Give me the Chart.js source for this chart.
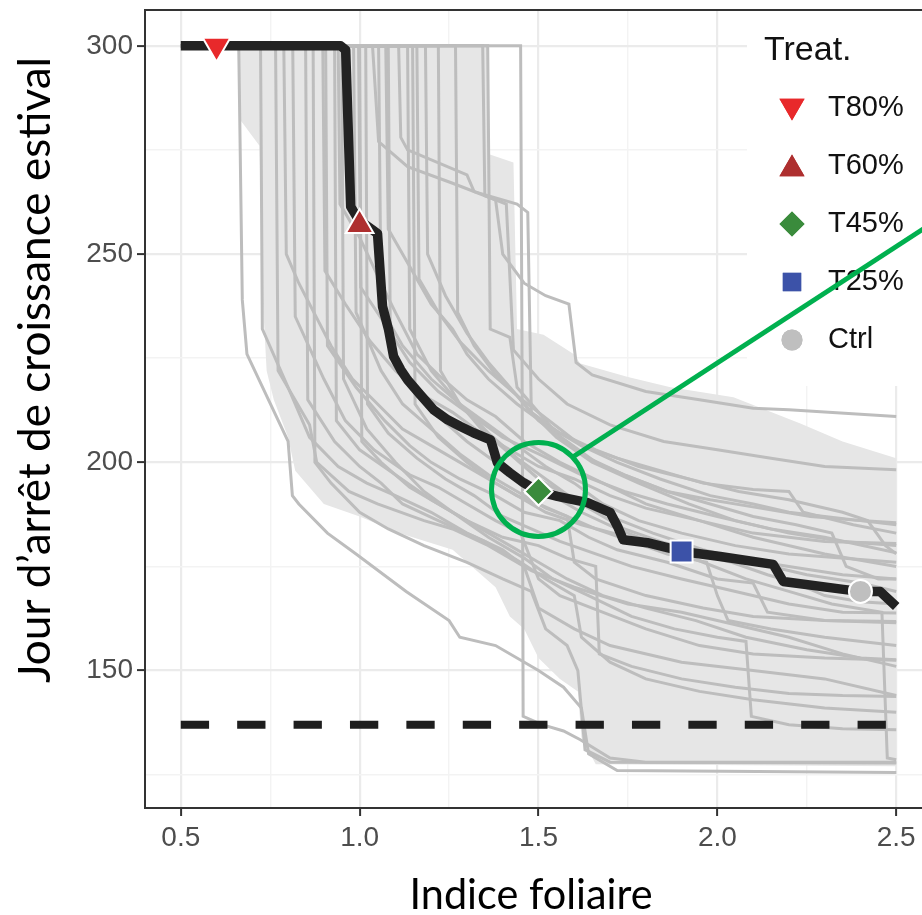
<!DOCTYPE html>
<html lang="fr">
<head>
<meta charset="utf-8">
<title>Jour d’arrêt de croissance estival</title>
<script src="https://cdn.jsdelivr.net/npm/chart.js@4.4.0/dist/chart.umd.min.js"></script>
<style>
    html, body { margin: 0; padding: 0; background: #fff; overflow: hidden; }
    #cadre { width: 960px; height: 915px; }
</style>
</head>
<body>
<div id="cadre"><canvas id="grafico" width="960" height="915"></canvas></div>
<script>
// ------------------------------ Données ------------------------------

const marcasX = [0.5, 1.0, 1.5, 2.0, 2.5];
const rejillaX = [0.5, 0.75, 1.0, 1.25, 1.5, 1.75, 2.0, 2.25, 2.5];
const marcasY = [150, 200, 250, 300];
const rejillaY = [125, 150, 175, 200, 225, 250, 275, 300];

// Traitements (points sur la médiane)
const traitements = ["T80%", "T60%", "T45%", "T25%", "Ctrl"];
const traitX = [0.6, 1.0, 1.5, 1.9, 2.4];
const traitY = [300, 257, 193, 178.6, 169];

// Courbe médiane (noire)
const medianeX = [0.5, 0.947, 0.961, 0.975, 0.997, 1.036, 1.05, 1.064, 1.081, 1.095, 1.115, 1.134, 1.17, 1.207,
    1.246, 1.282, 1.318, 1.366, 1.385, 1.42, 1.458, 1.5, 1.553, 1.637, 1.70, 1.721, 1.737, 1.804, 1.902, 2.008,
    2.156, 2.184, 2.352, 2.40, 2.455, 2.5];
const medianeY = [300, 300, 299, 261.4, 258.2, 255.8, 254.9, 237.4, 231.8, 225.4, 222.2, 219.8, 216.2, 212.6,
    210.2, 208.6, 207.1, 205.4, 199.9, 197.5, 195.1, 193.0, 191.8, 190.3, 188, 184.6, 181.4, 180.7, 178.6, 177.4,
    175.5, 171.4, 169.5, 169.0, 169.0, 165.4];

// Seuil (ligne pointillée)
const seuilX = [0.5, 2.5];
const seuilY = [137, 137];

// Enveloppe grise : bord haut (gauche -> droite) puis bord bas (droite -> gauche)
const bandeHautX = [0.662, 1.358, 1.36, 1.43, 1.44, 1.514, 1.598, 1.617, 1.75, 1.869, 2.045, 2.232, 2.35, 2.5];
const bandeHautY = [300, 300, 274, 272, 232, 230.6, 226, 223.7, 220.5, 218, 215.6, 209.3, 205, 201];
const bandeBasX = [2.5, 1.66, 1.62, 1.61, 1.56, 1.50, 1.46, 1.42, 1.38, 1.26, 1.11, 1.0, 0.90, 0.82, 0.80, 0.76,
    0.74, 0.73, 0.72, 0.668, 0.662];
const bandeBasY = [127, 127.5, 134, 145, 148, 153, 160, 163, 170, 179, 183, 187, 190, 198, 206, 215, 222, 238,
    276, 282, 300];

// Courbes individuelles (grises), paires [indice foliaire, jour]
const c01 = [[0.5, 300], [0.662, 300], [0.672, 239], [0.685, 226], [0.80, 205], [0.812, 192], [0.83, 190], [0.91, 183], [0.99, 178], [1.13, 169], [1.25, 162], [1.28, 158], [1.38, 156], [1.50, 150], [1.57, 146], [1.62, 141], [1.64, 130], [1.72, 126], [2.5, 125.5]];
const c02 = [[0.5, 300], [0.723, 300], [0.728, 232], [0.80, 218], [0.86, 206], [0.94, 199], [1.02, 195], [1.10, 192], [1.20, 188], [1.30, 183], [1.40, 179], [1.46, 175], [1.50, 165], [1.60, 160], [1.70, 156], [1.90, 152], [2.10, 150], [2.3, 148], [2.5, 144]];
const c03 = [[0.5, 300], [0.765, 300], [0.772, 222], [0.86, 209], [0.88, 200], [0.97, 193], [1.05, 190], [1.18, 186], [1.26, 184], [1.36, 180], [1.48, 174], [1.60, 170], [1.75, 166], [1.90, 164], [2.0, 162], [2.2, 158], [2.35, 154], [2.5, 151]];
const c04 = [[0.5, 300], [0.788, 300], [0.795, 250], [0.83, 243], [0.92, 228], [0.98, 220], [1.05, 214], [1.12, 208], [1.20, 204], [1.32, 198], [1.42, 193], [1.52, 188], [1.62, 185], [1.75, 182], [1.90, 180], [2.05, 177], [2.2, 175], [2.35, 173], [2.5, 172]];
const c05 = [[0.5, 300], [0.813, 300], [0.82, 235], [0.90, 220], [0.96, 210], [1.04, 203], [1.14, 197], [1.22, 194], [1.30, 190], [1.38, 186], [1.45, 183], [1.50, 172], [1.56, 168], [1.65, 165], [1.80, 160], [1.95, 156], [2.10, 154], [2.3, 153], [2.5, 152.5]];
const c06 = [[0.5, 300], [0.849, 300], [0.855, 215], [0.93, 205], [1.0, 199], [1.06, 195], [1.12, 190], [1.22, 186], [1.35, 181], [1.45, 176], [1.52, 172], [1.60, 168], [1.62, 158], [1.70, 152], [1.80, 148], [1.95, 145], [2.1, 143], [2.3, 141], [2.5, 140]];
const c07 = [[0.5, 300], [0.897, 300], [0.903, 246], [0.96, 238], [1.03, 229], [1.10, 222], [1.18, 216], [1.26, 212], [1.34, 207], [1.42, 203], [1.50, 199], [1.60, 196], [1.70, 192], [1.80, 189], [1.95, 186], [2.10, 183], [2.3, 181], [2.5, 180.5]];
const c08 = [[0.5, 300], [0.905, 300], [0.91, 228], [0.99, 218], [1.07, 210], [1.14, 204], [1.20, 200], [1.28, 196], [1.38, 192], [1.46, 188], [1.56, 186], [1.64, 182], [1.72, 179], [1.86, 176], [2.0, 172], [2.1, 171], [2.14, 164], [2.3, 162], [2.5, 161.5]];
const c09 = [[0.5, 300], [0.94, 300], [0.945, 262], [1.0, 254], [1.06, 243], [1.10, 236], [1.16, 226], [1.22, 221], [1.30, 215], [1.38, 211], [1.46, 205], [1.56, 200], [1.68, 195], [1.80, 190], [1.95, 186], [2.1, 182], [2.3, 178], [2.5, 175]];
const c10 = [[0.5, 300], [0.983, 300], [0.99, 236], [1.06, 222], [1.12, 214], [1.20, 208], [1.28, 202], [1.36, 197], [1.44, 193], [1.52, 189], [1.58, 187], [1.60, 176], [1.66, 172], [1.80, 168], [1.96, 165], [2.1, 163], [2.3, 162], [2.5, 161.8]];
const c11 = [[0.5, 300], [0.997, 300], [1.003, 242], [1.08, 232], [1.14, 224], [1.22, 217], [1.30, 212], [1.40, 206], [1.50, 202], [1.62, 197], [1.74, 193], [1.86, 190], [2.0, 187], [2.15, 184], [2.3, 182], [2.5, 178.3]];
const c12 = [[0.5, 300], [1.017, 300], [1.022, 214], [1.08, 207], [1.16, 201], [1.24, 196], [1.32, 192], [1.40, 187], [1.48, 184], [1.56, 181], [1.66, 178], [1.76, 175], [1.90, 172], [2.0, 170], [2.2, 166], [2.35, 164], [2.5, 163.8]];
const c13 = [[0.5, 300], [1.036, 300], [1.053, 277], [1.134, 271], [1.26, 267], [1.41, 262], [1.43, 227], [1.50, 220], [1.58, 214], [1.70, 209], [1.85, 205], [2.0, 203], [2.15, 201], [2.3, 199], [2.5, 198.2]];
const c14 = [[0.5, 300], [1.053, 300], [1.06, 237], [1.12, 228], [1.20, 220], [1.28, 214], [1.36, 209], [1.44, 204], [1.52, 199], [1.60, 195], [1.68, 190], [1.78, 186], [1.90, 183], [2.05, 180], [2.2, 178], [2.5, 176]];
const c15 = [[0.5, 300], [1.073, 300], [1.08, 256], [1.14, 247], [1.20, 238], [1.26, 232], [1.30, 226], [1.36, 220], [1.44, 214], [1.52, 209], [1.62, 204], [1.72, 200], [1.84, 196], [1.98, 192], [2.1, 190], [2.2, 188], [2.4, 186], [2.5, 185]];
const c16 = [[0.5, 300], [1.109, 300], [1.115, 278], [1.134, 275], [1.30, 269], [1.32, 265], [1.44, 262], [1.47, 260], [1.48, 212], [1.55, 206], [1.65, 200], [1.78, 195], [1.92, 190], [2.05, 186], [2.2, 183], [2.35, 181], [2.5, 180]];
const c17 = [[0.5, 300], [1.134, 300], [1.14, 232], [1.20, 222], [1.28, 214], [1.36, 207], [1.44, 201], [1.52, 196], [1.60, 191], [1.70, 187], [1.82, 183], [1.96, 179], [2.1, 176], [2.25, 173], [2.4, 171], [2.5, 169]];
const c18 = [[0.5, 300], [1.148, 300], [1.155, 214], [1.22, 206], [1.30, 200], [1.38, 195], [1.44, 192], [1.50, 190], [1.58, 187], [1.66, 184], [1.76, 181], [1.86, 178], [1.97, 176], [2.0, 168], [2.03, 162], [2.15, 160], [2.3, 158], [2.5, 156]];
const c19 = [[0.5, 300], [1.184, 300], [1.19, 250], [1.24, 240], [1.30, 231], [1.36, 224], [1.42, 218], [1.48, 212], [1.56, 207], [1.66, 203], [1.78, 199], [1.92, 196], [2.06, 193], [2.2, 191], [2.35, 188], [2.42, 186], [2.47, 180], [2.5, 178]];
const c20 = [[0.5, 300], [1.268, 300], [1.274, 236], [1.32, 228], [1.38, 221], [1.44, 216], [1.50, 212], [1.56, 206], [1.64, 201], [1.74, 197], [1.86, 193], [1.98, 190], [2.1, 187], [2.22, 185], [2.32, 183], [2.36, 175], [2.45, 172], [2.5, 172]];
const c21 = [[0.5, 300], [1.344, 300], [1.35, 264], [1.38, 263], [1.40, 250], [1.46, 243], [1.52, 240], [1.585, 238], [1.605, 224], [1.65, 221], [1.80, 217], [1.95, 215], [2.10, 213], [2.2, 212.6], [2.5, 211]];
const c22 = [[0.5, 300], [1.358, 300], [1.365, 232], [1.42, 230], [1.44, 218], [1.50, 212], [1.56, 208], [1.62, 204], [1.72, 201], [1.84, 198], [1.96, 195], [2.1, 193.5], [2.2, 193], [2.24, 188], [2.38, 185], [2.5, 183]];
const c23 = [[0.5, 300], [1.45, 300], [1.455, 205], [1.457, 139], [1.51, 137], [1.57, 135.5], [1.617, 133.4], [1.70, 129], [1.80, 128], [2.5, 128]];
const c24 = [[0.5, 300], [1.0, 300], [1.006, 205], [1.06, 200], [1.14, 194], [1.24, 189], [1.34, 184], [1.42, 180], [1.50, 176], [1.58, 172], [1.68, 168], [1.80, 165], [1.94, 162], [2.08, 158], [2.25, 155], [2.4, 153], [2.5, 152.6]];
const c25 = [[0.5, 300], [0.87, 300], [0.875, 200], [0.92, 195], [1.0, 188], [1.08, 184], [1.18, 180], [1.30, 176], [1.40, 172], [1.48, 169], [1.52, 160], [1.58, 156], [1.61, 150], [1.63, 131], [1.70, 128], [2.5, 127.8]];
const c26 = [[0.5, 300], [1.16, 300], [1.166, 244], [1.22, 236], [1.28, 229], [1.36, 222], [1.44, 216], [1.50, 210], [1.58, 205], [1.66, 200], [1.74, 197], [1.86, 193], [1.98, 191], [2.12, 189], [2.26, 187], [2.4, 186], [2.5, 185.5]];
const c27 = [[0.5, 300], [1.22, 300], [1.226, 222], [1.28, 214], [1.34, 208], [1.42, 202], [1.50, 196], [1.58, 192], [1.66, 188], [1.74, 184], [1.84, 181], [1.94, 178], [2.04, 176], [2.14, 173], [2.22, 171], [2.3, 168], [2.4, 166.5], [2.5, 166]];
const c28 = [[0.5, 300], [0.95, 300], [0.955, 220], [1.02, 208], [1.10, 200], [1.18, 193], [1.26, 188], [1.36, 182], [1.46, 177], [1.54, 172], [1.64, 168], [1.76, 163], [1.88, 160], [2.0, 158], [2.08, 157], [2.095, 139], [2.2, 137], [2.35, 136], [2.5, 135.8]];
const c29 = [[0.5, 300], [0.93, 300], [0.935, 210], [1.0, 203], [1.1, 197], [1.2, 191], [1.3, 186], [1.4, 182], [1.5, 180], [1.58, 177], [1.66, 175], [1.67, 154], [1.76, 151], [1.90, 148], [2.05, 146], [2.2, 144.5], [2.35, 144], [2.5, 143.8]];
const c30 = [[0.5, 300], [1.08, 300], [1.086, 226], [1.14, 218], [1.22, 211], [1.30, 205], [1.38, 200], [1.46, 196], [1.54, 192], [1.62, 188], [1.72, 184], [1.84, 180], [1.96, 176], [2.08, 172], [2.2, 169], [2.32, 166], [2.46, 164], [2.475, 129], [2.5, 128.6]];
const courbes = [c01, c02, c03, c04, c05, c06, c07, c08, c09, c10, c11, c12, c13, c14, c15,
    c16, c17, c18, c19, c20, c21, c22, c23, c24, c25, c26, c27, c28, c29, c30];

// Annotation verte (loupe sur T45%)
const loupeCentre = [1.5, 193.5];
const loupeLigneX = [1.598, 2.6];
const loupeLigneY = [201.4, 257.4];

// ------------------------------ Styles ------------------------------

const couleursTrait = ["#E8292B", "#AE2F2F", "#3A8B3C", "#3C52A8", "#BFBFBF"];
const stylesTrait = ["triangle", "triangle", "rectRot", "rect", "circle"];
const rotationsTrait = [180, 0, 0, 0, 0];
const rayonsTrait = [16, 16, 14, 15.5, 11.5];
const rayonsLegende = [14.5, 14.5, 12.5, 13, 10.5];

const policeChiffres = "'Liberation Sans', Arial, sans-serif";
const policeTitres = "Lato, 'Open Sans', sans-serif";

function estMajeur(valeur, liste) {
    return liste.some(v => Math.abs(v - valeur) < 1e-6);
}

function enPoints(xs, ys) {
    return xs.map((x, i) => ({ x: x, y: ys[i] }));
}

// ------------------------------ Jeux de données ------------------------------

const jeux = [];

// Points des traitements (au-dessus de tout)
traitements.forEach((nom, i) => {
    jeux.push({
        label: nom,
        data: [{ x: traitX[i], y: traitY[i] }],
        showLine: false,
        pointStyle: stylesTrait[i],
        rotation: rotationsTrait[i],
        pointRadius: rayonsTrait[i],
        pointBackgroundColor: couleursTrait[i],
        pointBorderColor: "#FFFFFF",
        pointBorderWidth: 2,
        order: 0
    });
});

// Médiane
jeux.push({
    label: "médiane",
    data: enPoints(medianeX, medianeY),
    borderColor: "#222222",
    borderWidth: 9.5,
    borderJoinStyle: "round",
    pointRadius: 0,
    fill: false,
    order: 1
});

// Seuil pointillé
jeux.push({
    label: "seuil",
    data: enPoints(seuilX, seuilY),
    borderColor: "#1E1E1E",
    borderWidth: 8,
    borderDash: [28.3, 28.1],
    pointRadius: 0,
    fill: false,
    order: 2
});

// Courbes individuelles
courbes.forEach((c, i) => {
    jeux.push({
        label: "courbe " + (i + 1),
        data: c.map(p => ({ x: p[0], y: p[1] })),
        borderColor: "#BDBDBD",
        borderWidth: 3,
        pointRadius: 0,
        fill: false,
        order: 3
    });
});

// Enveloppe (polygone fermé)
jeux.push({
    label: "enveloppe",
    data: enPoints(bandeHautX.concat(bandeBasX), bandeHautY.concat(bandeBasY)),
    borderWidth: 0,
    borderColor: "rgba(0,0,0,0)",
    backgroundColor: "#E6E6E6",
    pointRadius: 0,
    fill: "shape",
    order: 4
});

// ------------------------------ Dessins supplémentaires ------------------------------

const pluginDecor = {
    id: "decor",
    afterDraw(chart) {
        const { ctx, chartArea, scales } = chart;

        // Cadre du panneau (haut et droite)
        ctx.save();
        ctx.strokeStyle = "#333333";
        ctx.lineWidth = 2;
        ctx.beginPath();
        ctx.moveTo(chartArea.left, chartArea.top);
        ctx.lineTo(chartArea.right, chartArea.top);
        ctx.lineTo(chartArea.right, chartArea.bottom);
        ctx.stroke();
        ctx.restore();

        // Légende
        ctx.save();
        ctx.fillStyle = "#FFFFFF";
        ctx.fillRect(747, chartArea.top + 1, chartArea.right - 748, 375);
        ctx.fillStyle = "#111111";
        ctx.textBaseline = "middle";
        ctx.font = "34px " + policeChiffres;
        ctx.fillText("Treat.", 764, 51);
        ctx.font = "29px " + policeChiffres;
        traitements.forEach((nom, i) => {
            const y = 108 + i * 58;
            ctx.fillStyle = couleursTrait[i];
            Chart.helpers.drawPoint(ctx, {
                pointStyle: stylesTrait[i],
                rotation: rotationsTrait[i],
                radius: rayonsLegende[i],
                borderWidth: 0
            }, 792, y + (stylesTrait[i] === "triangle" ? (rotationsTrait[i] ? -2 : 3) : 0));
            ctx.fill();
            ctx.fillStyle = "#111111";
            ctx.fillText(nom, 828, y);
        });
        ctx.restore();

        // Titres des axes
        ctx.save();
        ctx.fillStyle = "#000000";
        ctx.textAlign = "center";
        ctx.textBaseline = "middle";
        ctx.font = "43px " + policeTitres;
        ctx.fillText("Indice foliaire", 531, 895, 243);
        ctx.font = "44.5px " + policeTitres;
        ctx.translate(36, 370);
        ctx.rotate(-Math.PI / 2);
        ctx.fillText("Jour d’arrêt de croissance estival", 0, 0, 626);
        ctx.restore();

        // Loupe verte
        const cx = scales.x.getPixelForValue(loupeCentre[0]);
        const cy = scales.y.getPixelForValue(loupeCentre[1]);
        ctx.save();
        ctx.strokeStyle = "#00B04F";
        ctx.lineWidth = 5;
        ctx.beginPath();
        ctx.arc(cx, cy, 47, 0, Math.PI * 2);
        ctx.stroke();
        ctx.beginPath();
        ctx.moveTo(scales.x.getPixelForValue(loupeLigneX[0]), scales.y.getPixelForValue(loupeLigneY[0]));
        ctx.lineTo(scales.x.getPixelForValue(loupeLigneX[1]), scales.y.getPixelForValue(loupeLigneY[1]));
        ctx.stroke();
        ctx.restore();
    }
};

// ------------------------------ Graphique ------------------------------

const ctx = document.getElementById("grafico").getContext("2d");
const yMax = 308.6;

new Chart(ctx, {
    type: "line",
    data: { datasets: jeux },
    options: {
        responsive: false,
        animation: false,
        // pas de marge automatique pour les gros marqueurs
        layout: { autoPadding: false, padding: { top: 10, right: 28, left: 0, bottom: 0 } },
        plugins: {
            legend: { display: false },
            tooltip: { enabled: false }
        },
        elements: { line: { tension: 0 } },
        scales: {
            x: {
                type: "linear",
                min: 0.4,
                max: 2.6,
                afterBuildTicks: (s) => { s.ticks = rejillaX.map(v => ({ value: v })); },
                afterFit: (s) => { s.height = 107; },
                grid: {
                    color: (c) => estMajeur(c.tick.value, marcasX) ? "#EBEBEB" : "#F3F3F3",
                    lineWidth: (c) => estMajeur(c.tick.value, marcasX) ? 2.2 : 1.4,
                    tickColor: (c) => estMajeur(c.tick.value, marcasX) ? "#333333" : "rgba(0,0,0,0)",
                    tickLength: 8,
                    tickWidth: 2
                },
                border: { color: "#333333", width: 2 },
                ticks: {
                    autoSkip: false,
                    maxRotation: 0,
                    padding: 5,
                    color: "#4D4D4D",
                    font: { family: policeChiffres, size: 28 },
                    callback: (v) => estMajeur(v, marcasX) ? v.toFixed(1) : ""
                }
            },
            y: {
                type: "linear",
                min: 117,
                max: yMax,
                afterBuildTicks: (s) => { s.ticks = rejillaY.map(v => ({ value: v })); },
                afterFit: (s) => { s.width = 145; s.paddingTop = 0; s.paddingBottom = 0; },
                grid: {
                    color: (c) => estMajeur(c.tick.value, marcasY) ? "#EBEBEB" : "#F3F3F3",
                    lineWidth: (c) => estMajeur(c.tick.value, marcasY) ? 2.2 : 1.4,
                    tickColor: (c) => estMajeur(c.tick.value, marcasY) ? "#333333" : "rgba(0,0,0,0)",
                    tickLength: 8,
                    tickWidth: 2
                },
                border: { color: "#333333", width: 2 },
                ticks: {
                    autoSkip: false,
                    padding: 4,
                    color: "#4D4D4D",
                    font: { family: policeChiffres, size: 28, lineHeight: 0.3 },
                    callback: (v) => estMajeur(v, marcasY) ? String(v) : ""
                }
            }
        }
    },
    plugins: [pluginDecor]
});
</script>
</body>
</html>
